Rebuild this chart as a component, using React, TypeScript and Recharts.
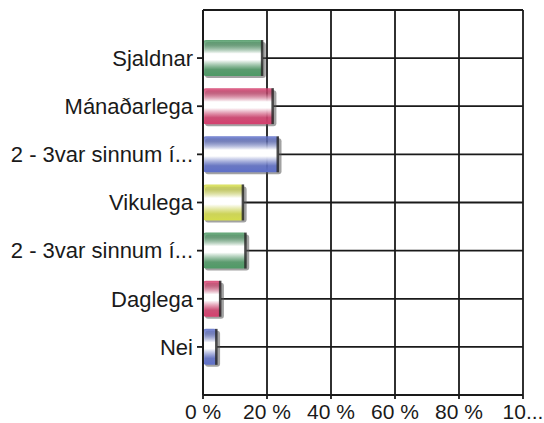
import { BarChart, Bar, XAxis, YAxis, CartesianGrid } from 'recharts';

document.body.style.margin = '0';

const categories = [
  'Sjaldnar',
  'Mánaðarlega',
  '2 - 3var sinnum í...',
  'Vikulega',
  '2 - 3var sinnum í...',
  'Daglega',
  'Nei',
];
const shares = [18.7, 22.0, 23.6, 12.7, 13.5, 5.6, 4.4];
const xTicks = [0, 20, 40, 60, 80, 100];
const xTickLabels = ['0 %', '20 %', '40 %', '60 %', '80 %', '10...'];

// cylinder colours cycle green / pink / blue / yellow like the original
const barColors = ['green', 'pink', 'blue', 'yellow', 'green', 'pink', 'blue'];
const palette: Record<string, string> = {
  green: '#4f9a66',
  pink: '#d4406e',
  blue: '#5f70c8',
  yellow: '#d4dc4c',
};

const data = categories.map((name, i) => ({ name, value: shares[i], color: barColors[i] }));

const FONT = '"Liberation Sans", Arial, Helvetica, sans-serif';

const CylinderBar = (props: any) => {
  const { x, y, width, height, payload } = props;
  if (!width || width <= 0) return null;
  const r = Math.min(3, width / 2);
  return (
    <g>
      <rect x={x + 2} y={y + 2} width={width + 1} height={height} rx={r} fill="#555" opacity={0.55} />
      <rect x={x} y={y} width={width} height={height} rx={r} fill={`url(#grad-${payload.color})`} />
      <rect x={x + width - 2} y={y} width={2.5} height={height} fill="#2a2a2a" opacity={0.85} />
    </g>
  );
};

export default function App() {
  return (
    <div style={{ width: 544, height: 423, background: '#fff' }}>
      <BarChart
        width={544}
        height={423}
        data={data}
        layout="vertical"
        margin={{ top: 10, right: 21, bottom: 0, left: 0 }}
        barSize={36}
      >
        <defs>
          {Object.keys(palette).map((k) => (
            <linearGradient key={k} id={`grad-${k}`} x1="0" y1="0" x2="0" y2="1">
              <stop offset="0%" stopColor={palette[k]} stopOpacity={0.9} />
              <stop offset="14%" stopColor={palette[k]} stopOpacity={0.65} />
              <stop offset="38%" stopColor="#ffffff" />
              <stop offset="55%" stopColor="#ffffff" />
              <stop offset="82%" stopColor={palette[k]} stopOpacity={0.85} />
              <stop offset="100%" stopColor={palette[k]} />
            </linearGradient>
          ))}
        </defs>
        <CartesianGrid stroke="#1a1a1a" strokeWidth={1.8} />
        <XAxis
          type="number"
          domain={[0, 100]}
          ticks={xTicks}
          interval={0}
          height={28}
          tickSize={4}
          tickMargin={5}
          tickFormatter={(v: number) => xTickLabels[xTicks.indexOf(v)]}
          axisLine={{ stroke: '#1a1a1a', strokeWidth: 2 }}
          tickLine={{ stroke: '#1a1a1a', strokeWidth: 1.8 }}
          tick={{ fill: '#1a1a1a', fontSize: 21, fontFamily: FONT }}
        />
        <XAxis
          xAxisId="top"
          orientation="top"
          type="number"
          domain={[0, 100]}
          height={0}
          tick={false}
          tickLine={false}
          axisLine={{ stroke: '#1a1a1a', strokeWidth: 2 }}
        />
        <YAxis
          type="category"
          dataKey="name"
          width={203}
          interval={0}
          padding={{ top: 24, bottom: 24 }}
          tickSize={6}
          tickMargin={4}
          axisLine={{ stroke: '#1a1a1a', strokeWidth: 2 }}
          tickLine={{ stroke: '#1a1a1a', strokeWidth: 1.8 }}
          tick={{ fill: '#1a1a1a', fontSize: 22, fontFamily: FONT }}
        />
        <Bar dataKey="value" shape={<CylinderBar />} isAnimationActive={false} />
      </BarChart>
    </div>
  );
}
